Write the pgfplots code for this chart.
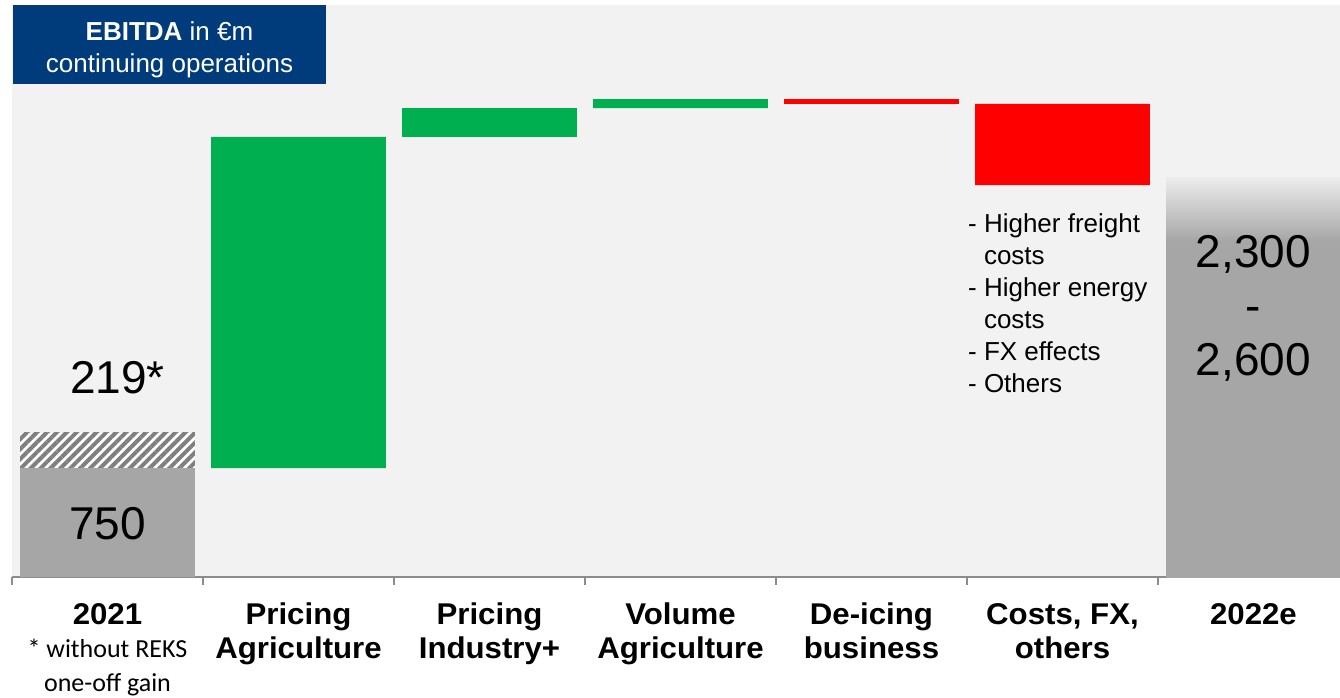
\documentclass[border=0pt]{standalone}
\usepackage{pgfplots}
\pgfplotsset{compat=1.18}
\usepackage{pgfplotstable}
\usetikzlibrary{patterns.meta}
\usepackage{fontspec}
\setmainfont{Liberation Sans}
\newfontfamily\carlito{Carlito}
\newfontfamily\labfont[FakeStretch=1.04]{Liberation Sans}
\definecolor{bgc}{HTML}{F2F2F2}
\definecolor{barg}{HTML}{A6A6A6}
\definecolor{hatchg}{HTML}{7F7F7F}
\definecolor{grn}{HTML}{00B050}
\definecolor{rd}{HTML}{FF0000}
\definecolor{navy}{HTML}{003B7B}
\definecolor{axg}{HTML}{8C8C8C}
\definecolor{fadetop}{HTML}{EDEDED}
\pgfdeclareverticalshading{fadebar}{100bp}{color(0bp)=(barg); color(67bp)=(barg); color(75bp)=(fadetop); color(100bp)=(fadetop)}

\pgfplotstableread{
x base gray hatch green red fade
0 0 750 241 0 0 0
1 750 0 0 2278 0 0
2 3028 0 0 199 0 0
3 3227 0 0 62 0 0
4 3255 0 0 0 34 0
5 2697 0 0 0 558 0
6 0 0 0 0 0 2752
}\wf

\begin{document}
\begin{tikzpicture}
\begin{axis}[
  at={(0,0)}, anchor=south west,
  scale only axis, width=1328pt, height=572pt,
  xmin=-0.5, xmax=6.453, ymin=0, ymax=3936,
  ybar stacked, bar width=0.916,
  axis background/.style={fill=bgc},
  axis x line=bottom, axis y line=none,
  x axis line style={-, draw=axg, line width=2pt},
  ytick=\empty,
  xtick={0,...,6},
  xticklabels={
    {2021\\[-1pt]{\carlito\mdseries\fontsize{26}{34}\selectfont * without REKS}\\{\carlito\mdseries\fontsize{26}{34}\selectfont one-off gain}},
    {Pricing\\Agriculture},
    {Pricing\\Industry+},
    {Volume\\Agriculture},
    {De-icing\\business},
    {Costs, FX,\\others},
    {2022e}},
  minor xtick={-0.5,0.5,...,5.5},
  tick align=outside,
  major tick length=0pt,
  minor tick length=8pt,
  minor tick style={draw=axg, line width=1.3pt},
  xticklabel style={font=\labfont\bfseries\fontsize{30}{34}\selectfont, align=center, anchor=north, inner sep=0pt, yshift=-26pt},
]
\addplot[draw=none, fill=none] table[x=x,y=base]{\wf};
\addplot[draw=none, fill=barg] table[x=x,y=gray]{\wf};
\addplot[draw=none, fill=white, postaction={pattern={Lines[angle=45,distance=7pt,line width=4pt]}, pattern color=hatchg}] table[x=x,y=hatch]{\wf};
\addplot[draw=none, fill=grn] table[x=x,y=green]{\wf};
\addplot[draw=none, fill=rd] table[x=x,y=red]{\wf};
\addplot[draw=none, shade, shading=fadebar] table[x=x,y=fade]{\wf};

\coordinate (l219) at (axis cs:0.052,1266);
\coordinate (l750) at (axis cs:0,255);
\coordinate (l22) at (axis cs:6,2353);
\coordinate (lnote) at (axis cs:4.505,2505);
\end{axis}
\node[font=\fontsize{46}{54}\selectfont, anchor=base, inner sep=0pt] at (l219) {219*};
\node[font=\fontsize{46}{54}\selectfont, anchor=base, inner sep=0pt] at (l750) {750};
\node[font=\fontsize{46}{54}\selectfont, align=center, anchor=north, inner sep=0pt] at (l22) {2,300\\-\\2,600};
\node[font=\fontsize{26}{32}\selectfont, align=left, anchor=north west, inner sep=0pt] at (lnote)
  {- Higher freight\\\phantom{- }costs\\- Higher energy\\\phantom{- }costs\\- FX effects\\- Others};
\fill[navy] (1pt,572pt) rectangle (314pt,493pt);
\node[text=white, align=center, anchor=north, inner sep=0pt, font=\fontsize{26}{32}\selectfont] at (157.5pt,556pt) {\textbf{EBITDA} in €m\\continuing operations};
\pgfresetboundingbox
\path (-12pt,-120pt) rectangle (1328pt,577pt);
\end{tikzpicture}
\end{document}
